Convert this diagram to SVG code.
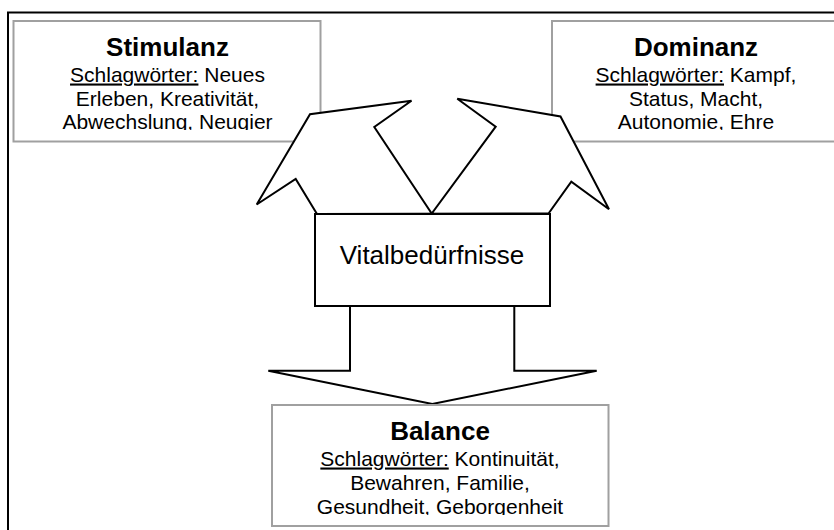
<svg xmlns="http://www.w3.org/2000/svg" width="834" height="530" viewBox="0 0 834 530">
<style>
.frame{fill:none;stroke:#000;stroke-width:2}
.gbox{fill:#fff;stroke:#a0a0a0;stroke-width:2}
.bbox{fill:#fff;stroke:#000;stroke-width:2}
.arrow{fill:#fff;stroke:#000;stroke-width:2;stroke-linejoin:miter}
text{font-family:"Liberation Sans",Arial,sans-serif;fill:#000;text-anchor:middle}
.title{font-size:26px;font-weight:bold}
.body{font-size:21px}
.u{text-decoration:underline}
</style>
<defs>
<clipPath id="cS"><rect x="14" y="22" width="306" height="108"/></clipPath>
<clipPath id="cD"><rect x="553" y="22" width="290" height="108"/></clipPath>
<clipPath id="cB"><rect x="272" y="406" width="336" height="109"/></clipPath>
</defs>
<rect class="frame" x="8" y="12.5" width="840" height="540"/>
<g id="stimulanz">
<rect class="gbox" x="13.5" y="21" width="307" height="120.5"/>
<g clip-path="url(#cS)">
<text class="title" x="167.5" y="56">Stimulanz</text>
<text class="body" x="167.5" y="81.5"><tspan class="u">Schlagwörter:</tspan> Neues</text>
<text class="body" x="167.5" y="105.5">Erleben, Kreativität,</text>
<text class="body" x="167.5" y="129">Abwechslung, Neugier</text>
</g>
</g>
<g id="dominanz">
<rect class="gbox" x="552" y="21" width="300" height="120.5"/>
<g clip-path="url(#cD)">
<text class="title" x="696" y="56">Dominanz</text>
<text class="body" x="696" y="81.5"><tspan class="u">Schlagwörter:</tspan> Kampf,</text>
<text class="body" x="696" y="105.5">Status, Macht,</text>
<text class="body" x="696" y="129">Autonomie, Ehre</text>
</g>
</g>
<g id="connectors">
<polygon class="arrow" points="317,214 295.7,179 256.7,204.5 310,114.3 411.5,100.8 374.3,127 431.7,213.5 495.7,126.7 457.3,98.8 560.5,116.5 609,209.3 571.3,181.7 548.5,213.5"/>
<polygon class="arrow" points="350,306 350,370.7 268.3,370.7 432.3,404 596.7,370.7 514.3,370.7 514.3,306"/>
</g>
<g id="vital">
<rect class="bbox" x="315" y="214" width="235" height="92"/>
<text x="432" y="264" style="font-size:26px">Vitalbedürfnisse</text>
</g>
<g id="balance">
<rect class="gbox" x="272" y="405" width="336.5" height="121"/>
<g clip-path="url(#cB)">
<text class="title" x="440" y="440">Balance</text>
<text class="body" x="440" y="465.5"><tspan class="u">Schlagwörter:</tspan> Kontinuität,</text>
<text class="body" x="440" y="490">Bewahren, Familie,</text>
<text class="body" x="440" y="513.5">Gesundheit, Geborgenheit</text>
</g>
</g>
</svg>
